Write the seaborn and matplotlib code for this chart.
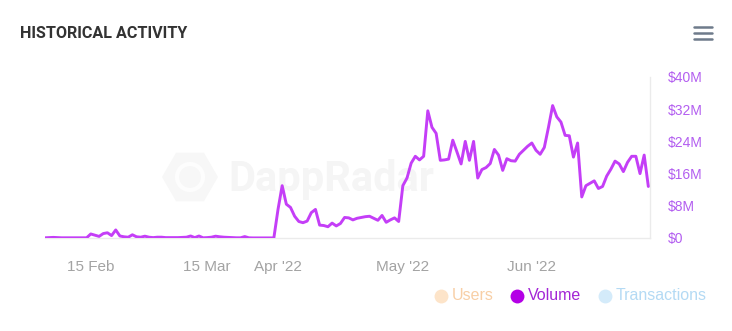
import matplotlib
matplotlib.use("Agg")
import matplotlib.pyplot as plt
from matplotlib.lines import Line2D
from matplotlib.patches import RegularPolygon, Circle
import seaborn as sns
import pandas as pd

# ---- data ----
start_date = "2022-02-04"
volume_musd = [
    0.05, 0.1, 0.15, 0.1, 0.05, 0.05, 0.05, 0.05, 0.05, 0.05,
    0.05, 1.0, 0.7, 0.4, 1.1, 1.3, 0.6, 2.0, 0.5, 0.3,
    0.2, 0.8, 0.3, 0.2, 0.45, 0.2, 0.1, 0.2, 0.2, 0.1,
    0.1, 0.1, 0.1, 0.15, 0.2, 0.5, 0.1, 0.5, 0.05, 0.1,
    0.2, 0.45, 0.3, 0.2, 0.15, 0.1, 0.05, 0.05, 0.35, 0.05,
    0.02, 0.02, 0.02, 0.02, 0.02, 0.02, 7.1, 13.0, 8.4, 7.6,
    5.4, 4.1, 3.8, 4.2, 6.3, 7.1, 3.2, 3.1, 2.8, 3.7,
    3.0, 3.6, 5.1, 5.0, 4.5, 4.9, 5.1, 5.3, 5.4, 4.9,
    4.4, 5.6, 3.9, 4.5, 5.0, 4.1, 13.0, 14.9, 18.6, 20.3,
    19.4, 20.3, 31.6, 27.5, 26.0, 19.3, 19.4, 19.6, 24.3, 21.4,
    18.4, 24.0, 19.3, 24.0, 14.9, 17.0, 17.5, 18.5, 22.0, 20.6,
    16.8, 19.7, 19.2, 19.1, 20.8, 21.8, 22.8, 23.6, 21.8, 20.8,
    22.5, 27.5, 32.9, 30.1, 28.8, 25.5, 25.4, 20.1, 23.6, 10.2,
    13.0, 13.6, 14.2, 12.3, 12.8, 15.4, 17.1, 19.1, 18.4, 16.5,
    18.8, 20.3, 20.3, 16.0, 20.6, 12.8,
]
dates = pd.date_range(start_date, periods=len(volume_musd), freq="D")

x_tick_dates = ["2022-02-15", "2022-03-15", "2022-04-01", "2022-05-01", "2022-06-01"]
x_tick_labels = ["15 Feb", "15 Mar", "Apr '22", "May '22", "Jun '22"]
y_tick_values = [0, 8, 16, 24, 32, 40]
y_tick_labels = ["$0", "$8M", "$16M", "$24M", "$32M", "$40M"]
legend_labels = ["Users", "Volume", "Transactions"]

df = pd.DataFrame({"date": dates, "volume": volume_musd})

# ---- style ----
sns.set_style("white")
plt.rcParams["font.family"] = ["Liberation Sans", "DejaVu Sans"]

W, H = 732, 331
fig = plt.figure(figsize=(W / 100, H / 100), dpi=100)
fig.patch.set_facecolor("white")
left, right, top, bottom = 45, 650, 77, 238
ax = fig.add_axes([left / W, 1 - bottom / H, (right - left) / W, (bottom - top) / H])
ax.set_facecolor("none")

# watermark (behind the line)
ax.text(228 / W, 1 - 180 / H, "DappRadar", fontsize=30, fontweight="bold",
        color="#f5f5f5", va="center", ha="left", family=["Roboto", "DejaVu Sans"],
        transform=fig.transFigure, zorder=0, clip_on=False)
hexagon = RegularPolygon((1.90, (H - 177) / 100), numVertices=6, radius=0.28,
                         orientation=0.5236,
                         transform=fig.dpi_scale_trans, facecolor="#f7f7f7",
                         edgecolor="none", zorder=0, clip_on=False)
ax.add_artist(hexagon)
ring = Circle((1.90, (H - 177) / 100), 0.13, transform=fig.dpi_scale_trans,
              facecolor="none", edgecolor="#fdfdfd", linewidth=3, zorder=0, clip_on=False)
ax.add_artist(ring)

line_color = "#c43ef7"
sns.lineplot(data=df, x="date", y="volume", ax=ax, color=line_color, linewidth=2.1, zorder=3)

ax.set_xlim(pd.Timestamp(start_date), pd.Timestamp(start_date) + pd.Timedelta(days=145.4))
ax.set_ylim(0, 40)
ax.set_xlabel("")
ax.set_ylabel("")

ax.set_xticks(pd.to_datetime(x_tick_dates))
ax.set_xticklabels(x_tick_labels)
ax.yaxis.tick_right()
ax.set_yticks(y_tick_values)
ax.set_yticklabels(y_tick_labels)
ax.tick_params(axis="x", length=0, pad=16, labelsize=11, labelcolor="#a3a3a3")
ax.tick_params(axis="y", length=0, pad=13, labelsize=10, labelcolor="#b35ef0")

for s in ["top", "left"]:
    ax.spines[s].set_visible(False)
for s in ["bottom", "right"]:
    ax.spines[s].set_color("#ebebeb")
    ax.spines[s].set_linewidth(1.0)
ax.grid(False)

# title
fig.text(20 / W, 1 - 33 / H, "HISTORICAL ACTIVITY", fontsize=11.6, fontweight="bold",
         color="#333333", va="center", ha="left", family=["Roboto", "DejaVu Sans"])

# hamburger menu icon
for yy in [27, 33, 38.5]:
    fig.add_artist(Line2D([694 / W, 712 / W], [1 - yy / H, 1 - yy / H], color="#6e7b8b",
                          linewidth=1.8, transform=fig.transFigure))

# legend (manual)
legend_dot_colors = ["#fde4c9", "#b400e6", "#d4ebfa"]
legend_text_colors = ["#f8cfa6", "#a326d6", "#b4daf4"]
legend_dot_x = [441, 517, 605]
ly = 1 - 296 / H
for lab, dc, tc, dx in zip(legend_labels, legend_dot_colors, legend_text_colors, legend_dot_x):
    fig.add_artist(Line2D([dx / W], [ly], marker="o", linestyle="none", markersize=10,
                          markerfacecolor=dc, markeredgecolor="none", transform=fig.transFigure))
    fig.text((dx + 11) / W, ly, lab, fontsize=11.5, color=tc, va="center", ha="left")

fig.savefig("out.png", dpi=100, facecolor="white")
